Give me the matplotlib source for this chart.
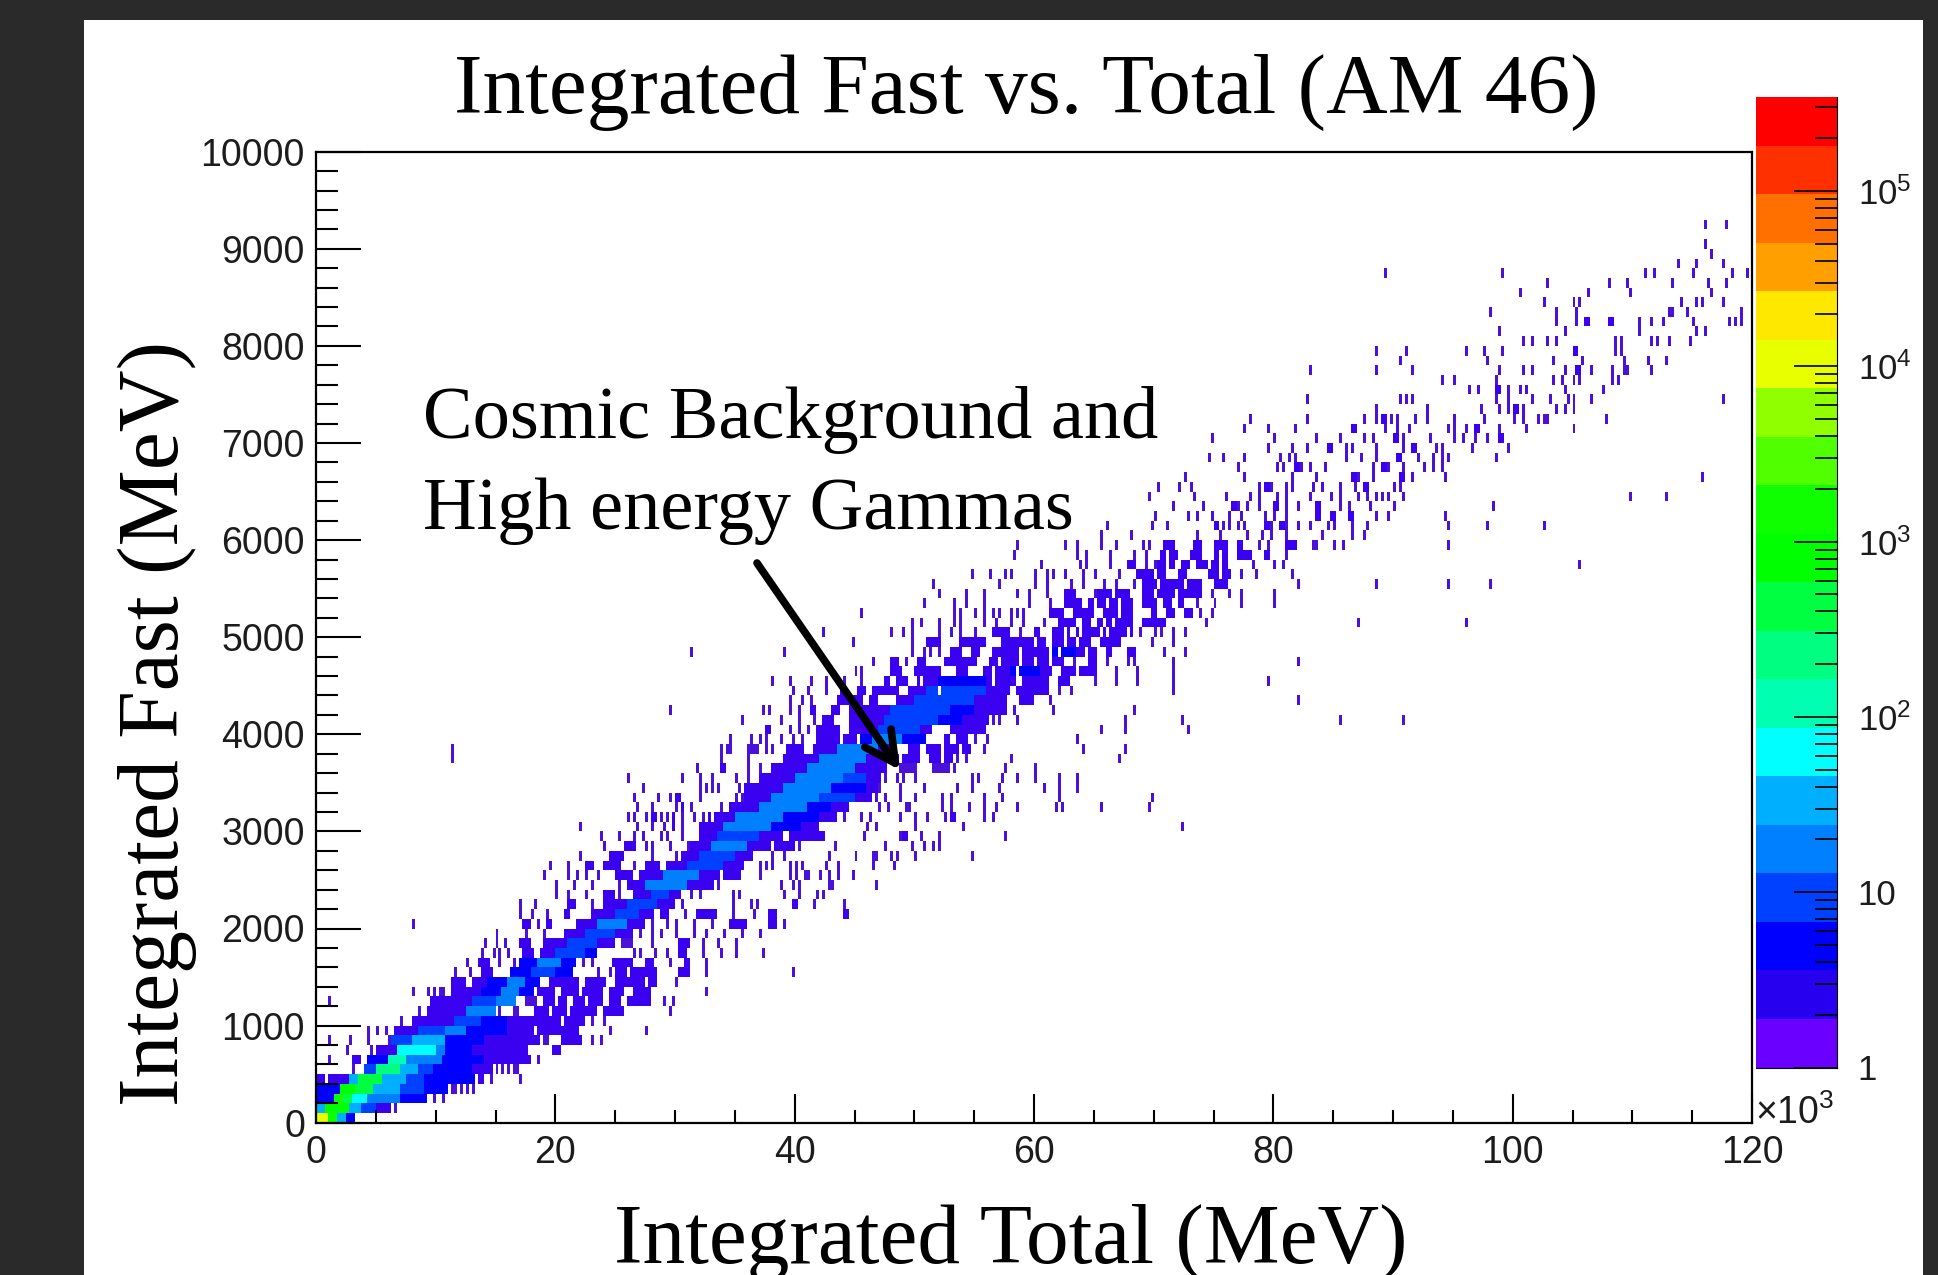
import numpy as np
import matplotlib
matplotlib.use('Agg')
import matplotlib.pyplot as plt
from matplotlib.colors import BoundaryNorm, ListedColormap
from matplotlib.patches import Rectangle
from matplotlib.ticker import LogLocator, MultipleLocator, NullFormatter

W, H = 1938, 1275

titulo = 'Integrated Fast vs. Total (AM 46)'
nome_x = 'Integrated Total (MeV)'
nome_y = 'Integrated Fast (MeV)'
anotacao = ['Cosmic Background and', 'High energy Gammas']

ticks_x = [0, 20, 40, 60, 80, 100, 120]
ticks_y = [0, 1000, 2000, 3000, 4000, 5000, 6000, 7000, 8000, 9000, 10000]
ticks_z = [1, 10, 100, 1000, 10000, 100000]
nomes_z = ['1', '10', '$\\mathregular{10^{2}}$', '$\\mathregular{10^{3}}$',
           '$\\mathregular{10^{4}}$', '$\\mathregular{10^{5}}$']
z_max = 3.44e5

cores = ['#6a00ff', '#2800f0', '#0000ff', '#0040ff', '#0080ff', '#00b0ff', '#00ffff',
         '#00ffb0', '#00ff80', '#00ff40', '#00ff00', '#10ff00', '#50ff00', '#90ff00',
         '#e8ff00', '#ffe800', '#ffa000', '#ff7000', '#ff3000', '#ff0000']
# as celulas pequenas aparecem mais escuras que a paleta
cores_celulas = ['#4a12d8', '#3a00f0'] + cores[2:]

# (linha de 100 MeV, x inicial, x final, contagem), x em 10^3 MeV
faixa_baixa = [
    (0, 0, 1, 8000), (0, 1, 1.8, 1500), (0, 1.8, 2.4, 40), (0, 2.4, 3.3, 5),
    (1, 0, .8, 35), (1, .8, 1.6, 900), (1, 1.6, 2.8, 700), (1, 2.8, 3.7, 30), (1, 3.7, 5, 7), (1, 5, 6.3, 3),
    (2, 0, 1.4, 5), (2, 1.4, 2.2, 1500), (2, 2.2, 3.1, 500), (2, 3.1, 4.2, 60), (2, 4.2, 7, 22), (2, 7, 9.2, 5),
    (3, 0, 2.1, 6), (3, 2.1, 3.2, 700), (3, 3.2, 4.8, 400), (3, 4.8, 7, 30), (3, 7, 9, 9), (3, 9, 11, 5),
    (4, 0, .8, 3), (4, 1, 2.8, 3), (4, 2.8, 3.6, 40), (4, 3.6, 5.6, 500), (4, 5.6, 7.5, 25), (4, 7.5, 9, 12),
    (4, 9, 13.2, 4), (4, 13.5, 14, 2),
    (5, 4, 5, 8), (5, 5, 7, 300), (5, 7, 8.5, 25), (5, 8.5, 9.8, 10), (5, 9.8, 13, 5), (5, 13, 14.8, 3),
    (6, 3.1, 3.7, 2), (6, 4.2, 5.9, 6), (6, 5.9, 7.6, 130), (6, 7.6, 10.4, 14), (6, 10.4, 14, 5), (6, 14, 17.9, 3),
    (7, 5, 6.8, 3), (7, 6.8, 8, 60), (7, 8, 10, 70), (7, 10, 10.7, 22), (7, 10.7, 13, 5), (7, 13, 17.7, 3),
    (7, 19.8, 20.5, 2),
    (8, 6.2, 8.1, 7), (8, 8.1, 10.7, 30), (8, 10.7, 14, 5), (8, 14, 18.7, 3), (8, 19, 19.5, 1), (8, 20.4, 22.2, 2),
    (9, 6.5, 8.5, 3), (9, 8.5, 10.7, 8), (9, 10.7, 12.6, 22), (9, 12.6, 16, 5), (9, 16, 22, 3),
    (10, 8.1, 11.5, 3), (10, 11.5, 13.7, 12), (10, 13.7, 16, 4), (10, 16, 18, 2), (10, 18, 22.6, 3),
    (11, 9.3, 12.6, 3), (11, 12.6, 15.1, 14), (11, 15.2, 15.6, 1), (11, 16.4, 17, 1), (11, 18.2, 23.5, 3), (11, 24, 25.7, 2),
    (12, 9.5, 13, 3), (12, 13, 15, 7), (12, 15, 16.8, 14), (12, 17.6, 18.6, 1), (12, 19, 21, 2), (12, 21.4, 24, 2),
    (12, 24.5, 25.6, 2), (12, 26, 28, 2),
]
faixa_media = [
    (13, 11.2, 13.7, 2), (13, 13.7, 15.5, 5), (13, 15.5, 17, 14), (13, 17, 18.2, 5), (13, 18.5, 20, 2), (13, 20.5, 24, 2),
    (13, 24.4, 26, 2), (13, 26.4, 28, 2),
    (14, 11.2, 12.6, 2), (14, 13.1, 14.3, 2), (14, 14.3, 16, 5), (14, 16, 17.5, 14), (14, 17.5, 18.7, 5),
    (14, 19.6, 22, 2), (14, 22.4, 24.3, 2), (14, 24.9, 28.5, 2),
    (15, 13.7, 14.8, 2), (15, 16.2, 18, 6), (15, 18, 20, 9), (15, 20, 21.5, 5), (15, 24.9, 28.6, 2), (15, 30.2, 31.3, 2),
    (16, 13.6, 14.5, 2), (16, 17, 18.5, 5), (16, 18.5, 20.5, 14), (16, 20.5, 21.8, 5), (16, 24.7, 26.8, 2),
    (16, 27.4, 28.2, 2), (16, 30.7, 31.3, 2),
    (17, 17.3, 18.2, 2), (17, 18.7, 20, 3), (17, 20, 22.5, 12), (17, 22.5, 23.5, 5), (17, 30.3, 31, 2),
    (18, 17, 18, 2), (18, 19, 21, 3), (18, 21, 23.5, 9), (18, 23.5, 25, 3), (18, 25.5, 26.5, 1), (18, 30.2, 31.2, 2),
    (19, 20.7, 22.5, 2), (19, 22.5, 25, 7), (19, 25, 26.5, 3),
    (20, 17.3, 18, 2), (20, 19.3, 19.8, 2), (20, 21.8, 23.5, 3), (20, 23.5, 26, 14), (20, 26, 27.6, 3),
    (20, 34.4, 36, 2), (20, 37.7, 38.5, 3),
    (21, 20.7, 21.2, 2), (21, 22.9, 25, 3), (21, 25, 27, 9), (21, 27, 28.2, 3), (21, 28.8, 29.6, 2),
    (21, 31.8, 33.5, 2), (21, 37.7, 38.5, 2),
    (22, 21, 21.8, 2), (22, 24, 26, 3), (22, 26, 28.5, 7), (22, 28.5, 30.1, 3),
    (23, 24, 25.1, 2), (23, 26.5, 28, 3), (23, 28, 29.5, 12), (23, 29.5, 30.4, 3),
    (24, 26, 27.5, 3), (24, 27.5, 31, 14), (24, 31, 33.2, 3),
    (25, 25, 26.5, 2), (25, 27, 29, 3), (25, 29, 32, 14), (25, 32, 33.8, 3), (25, 34, 35.4, 2),
    (26, 22.6, 23.3, 2), (26, 23.9, 25.4, 2), (26, 27.4, 28.7, 2), (26, 29.3, 31, 3), (26, 31, 34, 9), (26, 34, 35.7, 3),
    (27, 24.4, 25.7, 2), (27, 30.5, 32, 3), (27, 32, 35, 9), (27, 35, 36.5, 3),
    (28, 25.7, 26.8, 2), (28, 31.2, 33, 3), (28, 33, 36, 14), (28, 36, 38, 3), (28, 38.2, 39.9, 2),
    (29, 31.9, 33.5, 3), (29, 33.5, 37, 12), (29, 37, 39, 3), (29, 39.4, 42.4, 2),
    (30, 29.7, 30.1, 2), (30, 32, 34, 3), (30, 34, 38, 14), (30, 38, 40.5, 5), (30, 40.5, 42.1, 2),
    (31, 28, 28.5, 2), (31, 29.7, 30.1, 2), (31, 32.7, 33.1, 2), (31, 33.3, 35, 3), (31, 35, 39, 14), (31, 39, 42, 5), (31, 42, 43.5, 2),
    (32, 30.4, 30.8, 2), (32, 34.5, 37, 3), (32, 37, 41, 14), (32, 41, 43, 5), (32, 43, 44.4, 2),
]
faixa_alta = [
    (33, 35.7, 38, 3), (33, 38, 42, 14), (33, 42, 45, 7), (33, 45, 46.6, 2),
    (34, 36, 39, 3), (34, 39, 43, 14), (34, 43, 46, 5), (34, 46, 46.9, 2),
    (35, 37.1, 40, 3), (35, 40, 44, 18), (35, 44, 46, 7), (35, 46, 47.3, 2),
    (36, 37.9, 41, 3), (36, 41, 45, 18), (36, 45, 47.7, 3), (36, 48.8, 50.2, 1), (36, 51.6, 53, 1),
    (37, 39, 42, 3), (37, 42, 46, 14), (37, 46, 48.8, 3), (37, 49.1, 50.5, 2), (37, 51.3, 53.3, 2),
    (38, 39.3, 40.7, 2), (38, 41.6, 43.5, 3), (38, 43.5, 47, 14), (38, 47, 48.5, 3), (38, 49.4, 50.5, 2), (38, 51, 54.7, 2),
    (39, 41.7, 43.8, 2), (39, 44.1, 45.2, 3), (39, 45.5, 46.5, 5), (39, 46.5, 49, 14), (39, 49, 51, 5),
    (39, 52.4, 53, 2), (39, 53.5, 54.4, 2),
    (40, 37.4, 38, 2), (40, 41.8, 43.8, 2), (40, 44.6, 47, 3), (40, 47, 50.5, 10), (40, 50.5, 51.6, 3), (40, 53, 56, 2),
    (41, 42.3, 43.2, 2), (41, 44.4, 47.5, 3), (41, 47.5, 52, 10), (41, 52, 54, 5), (41, 54, 56.3, 2),
    (42, 41.2, 41.8, 2), (42, 43.1, 43.7, 2), (42, 44.4, 48, 3), (42, 48, 53, 9), (42, 53, 55, 5), (42, 55, 57.7, 2),
    (43, 43.5, 45.7, 2), (43, 46.3, 47.1, 2), (43, 48.5, 50, 3), (43, 50, 55, 9), (43, 55, 57.7, 3), (43, 58.8, 60, 2),
    (44, 43.8, 44.3, 2), (44, 45.2, 45.9, 2), (44, 46.6, 48.8, 2), (44, 49.4, 51, 3), (44, 51, 56, 7), (44, 56, 57.9, 3),
    (44, 58.6, 61.3, 2),
    (45, 47.4, 48, 2), (45, 48.5, 49.4, 2), (45, 50.2, 52, 2), (45, 52, 56, 5), (45, 56, 58.6, 3), (45, 59.1, 61.3, 3),
    (45, 61.9, 63, 2),
    (46, 48.1, 49.1, 2), (46, 49.9, 52.2, 2), (46, 53.5, 54.4, 2), (46, 55.8, 58, 3), (46, 58, 60.5, 5), (46, 60.5, 61.6, 3),
    (46, 62.2, 65.2, 2),
    (47, 48.1, 48.8, 2), (47, 50.2, 51, 2), (47, 52.4, 55.2, 2), (47, 56.3, 58, 2), (47, 58, 61.3, 3), (47, 61.6, 62.5, 3),
    (47, 64.5, 65.2, 2),
    (48, 53, 54.1, 2), (48, 54.7, 55.5, 2), (48, 56.6, 61.3, 3), (48, 61.6, 63.5, 5), (48, 63.5, 65.2, 3), (48, 66, 66.6, 2),
    (48, 67.8, 68.6, 2),
    (49, 51, 52.2, 2), (49, 53.8, 56, 2), (49, 57.2, 61.1, 2), (49, 61.6, 64.7, 3), (49, 65.5, 67.2, 2),
    (50, 56.6, 58, 2), (50, 60, 60.5, 2), (50, 61.6, 63, 2), (50, 63.4, 65.5, 2), (50, 65.8, 68.3, 3),
    (51, 61.9, 63.6, 2), (51, 64.1, 64.7, 2), (51, 65.2, 68.3, 2), (51, 69.1, 71.1, 2),
    (52, 61.3, 62.8, 2), (52, 63.2, 65, 2), (52, 65.5, 68.3, 2), (52, 69.7, 70.3, 2), (52, 70.9, 71.8, 2), (52, 72.5, 73.2, 2),
    (53, 62.5, 64, 2), (53, 64.4, 66, 2), (53, 66.2, 68.3, 2), (53, 68.9, 70.3, 2), (53, 70.8, 71.6, 3), (53, 71.9, 72.6, 2),
    (54, 62.5, 63.6, 2), (54, 65.2, 68, 2), (54, 68.9, 71, 2), (54, 71, 74, 3),
    (55, 69.1, 72, 2), (55, 72, 74, 3), (55, 75.1, 76.3, 2),
    (56, 68.6, 71.3, 2), (56, 72, 72.8, 2), (56, 74.6, 76.6, 3),
    (57, 67.8, 68.6, 2), (57, 70.2, 71.7, 2), (57, 72.3, 73, 2), (57, 73.6, 76.3, 2),
    (58, 70.5, 72, 2), (58, 73, 74, 2), (58, 75, 76.3, 2), (58, 77, 78.3, 2), (58, 79.3, 79.8, 2),
    (59, 70.7, 71.7, 2), (59, 73.3, 74, 2), (59, 75.1, 76.3, 2), (59, 77, 77.6, 2), (59, 80.9, 82, 2), (59, 83.2, 83.7, 1),
]

# celulas isoladas (x em 10^3 MeV, y em MeV)
celulas_baixas = [
    (6.7, 150), (9.8, 250), (10.5, 250), (11.3, 350), (11.7, 350), (12.1, 350), (12.6, 350), (13, 350), (13.8, 450),
    (14.7, 450), (15.1, 550), (15.6, 550), (16, 550), (16.5, 550), (16.9, 550), (17.1, 450), (18.7, 650), (3, 550),
    (2.7, 750), (4.5, 650), (4.5, 750), (4.4, 850), (6.2, 850), (7, 750), (7.7, 850), (1.2, 850), (2.9, 850), (1.1, 650),
    (23.2, 850), (23.9, 850), (24.6, 950), (27.5, 950), (1.2, 1250), (4.3, 950), (5.1, 950), (5.8, 950), (7.2, 1050),
    (23, 1050), (24, 1050), (8.7, 1150), (29.7, 1150), (29, 1250), (29.9, 1250), (8, 1350), (9.4, 1350), (9.9, 1350),
    (10.4, 1350), (10.7, 1350), (32.5, 1350), (30.2, 1450), (11.6, 1550), (12.9, 1550), (23.5, 1550), (24.5, 1550),
    (32.5, 1550), (39.9, 1550), (12.5, 1650), (15.4, 1650), (16.5, 1650), (22.3, 1650), (23.2, 1650), (29.5, 1650),
    (32.5, 1650), (13.8, 1750), (14.8, 1750), (15.4, 1750), (16.2, 1750), (26.5, 1750), (27, 1750), (28.3, 1750),
    (29.3, 1750), (32.4, 1750), (33.8, 1750), (35.2, 1750), (37.3, 1750), (14, 1850), (15.1, 1850), (15.8, 1850),
    (28.2, 1850), (32.4, 1850), (33.5, 1850), (35.2, 1850), (15.1, 1950), (17.6, 1950), (19, 1950), (27, 1950),
    (28, 1950), (28.8, 1950), (30.2, 1950), (31.6, 1950), (32.6, 1950), (34, 1950), (35.7, 1950), (37, 1950),
    (8, 2050), (18.5, 2050), (28.2, 2050), (29.3, 2050), (30.2, 2050), (31.6, 2050), (33.2, 2050), (39.2, 2050),
    (17, 2150), (18.2, 2150), (19.3, 2150), (30.8, 2150), (34.9, 2150), (36.6, 2150), (44.2, 2150), (44.2, 2250),
    (17, 2250), (18.3, 2250), (23.2, 2250), (30.7, 2250), (34.9, 2250), (36.3, 2250), (36.8, 2250), (39.9, 2250),
    (41.6, 2250), (20, 2350), (21, 2350), (22.6, 2350), (25.4, 2350), (31.3, 2350), (32, 2350), (34.9, 2350),
    (35.4, 2350), (39, 2350), (40.4, 2350), (41.8, 2350), (42.4, 2350), (20, 2450), (21.6, 2450), (23.2, 2450),
    (25.4, 2450), (33.5, 2450), (38.8, 2450), (39.9, 2450), (40.4, 2450), (42.9, 2450), (43.2, 2450), (46.9, 2450),
    (19, 2550), (21, 2550), (21.8, 2550), (22.6, 2550), (23.6, 2550), (37, 2550), (39.6, 2550), (40.2, 2550), (40.9, 2550),
    (41.2, 2550), (42.2, 2550), (42.9, 2550), (43.7, 2550), (44.8, 2550), (19.6, 2650), (21.2, 2650), (26.7, 2650),
    (37.1, 2650), (37.7, 2650), (38.2, 2650), (39.5, 2650), (40.2, 2650), (40.7, 2650), (42.7, 2650), (43.7, 2650),
    (46.5, 2650), (48.4, 2650), (22.2, 2750), (28, 2750), (30, 2750), (38, 2750), (39.2, 2750), (42.9, 2750), (45.2, 2750),
    (46.6, 2750), (46.9, 2750), (48.1, 2750), (48.6, 2750), (50.1, 2750), (54.9, 2750), (24.2, 2850), (27.6, 2850),
    (28.2, 2850), (29.6, 2850), (31, 2850), (40.4, 2850), (43.3, 2850), (47.6, 2850), (49.8, 2850), (50.8, 2850),
    (51.7, 2850), (52.1, 2850), (23.9, 2950), (25.4, 2950), (26.5, 2950), (27.4, 2950), (28.8, 2950), (29.4, 2950),
    (30.7, 2950), (45.9, 2950), (48.8, 2950), (49.2, 2950), (50.6, 2950), (52.1, 2950), (57.7, 2950),
]
celulas_medias = [
    (22.1, 3050), (26.9, 3050), (28, 3050), (29, 3050), (30.7, 3050), (72.4, 3050), (46, 3050), (46.9, 3050), (50.1, 3050),
    (54.2, 3050), (26, 3150), (26.5, 3150), (27.6, 3150), (28.9, 3150), (29.3, 3150), (30.7, 3150), (31.7, 3150),
    (32.3, 3150), (44.2, 3150), (45.6, 3150), (46.3, 3150), (48.9, 3150), (50.1, 3150), (51.2, 3150), (52.5, 3150),
    (55.8, 3150), (56.6, 3150), (26.9, 3250), (28.2, 3250), (30, 3250), (31.3, 3250), (33.8, 3250), (47, 3250),
    (47.9, 3250), (49.4, 3250), (49.7, 3250), (52.3, 3250), (53.1, 3250), (54.5, 3250), (55.9, 3250), (56.9, 3250),
    (58.5, 3250), (61.8, 3250), (62.3, 3250), (65.7, 3250), (69.7, 3250), (26.5, 3350), (28.6, 3350), (29.5, 3350),
    (30, 3350), (32.2, 3350), (35, 3350), (35.6, 3350), (46.9, 3350), (47.6, 3350), (48.8, 3350), (50.2, 3350), (52.3, 3350),
    (53.1, 3350), (55.8, 3350), (57.4, 3350), (62, 3350), (69.8, 3350), (27.4, 3450), (32.1, 3450), (32.7, 3450),
    (33.2, 3450), (33.6, 3450), (35.3, 3450), (35.9, 3450), (36.6, 3450), (47.1, 3450), (48.8, 3450), (50.8, 3450),
    (53.5, 3450), (54.9, 3450), (57, 3450), (60.8, 3450), (62.2, 3450), (63.6, 3450), (26.2, 3550), (30.6, 3550),
    (32.1, 3550), (33.2, 3550), (35.1, 3550), (36, 3550), (47.6, 3550), (48.6, 3550), (49.2, 3550), (50, 3550),
    (54.9, 3550), (55.4, 3550), (57.3, 3550), (58.6, 3550), (60.1, 3550), (62.2, 3550), (63.6, 3550), (31.8, 3650),
    (33.9, 3650), (36.1, 3650), (37, 3650), (53.3, 3650), (57.7, 3650), (60.2, 3650), (11.4, 3750), (33.9, 3750), (36.2, 3750),
    (53.7, 3750), (54.4, 3750), (58.1, 3750), (67.2, 3750), (11.4, 3850), (33.9, 3850), (34.3, 3850), (36.2, 3850), (36.6, 3850),
    (33.8, 3850), (34.5, 3850), (36.3, 3850), (36.8, 3850), (37.7, 3850), (38.1, 3850), (55.8, 3850), (64.1, 3850), (67.6, 3850),
    (34.5, 3950), (36.3, 3950), (37.2, 3950), (37.7, 3950), (38.8, 3950), (39.9, 3950), (40.7, 3950), (55, 3950), (56, 3950),
    (63.6, 3950), (39.5, 4050), (40.4, 4050), (41, 4050), (65.7, 4050), (67.7, 4050), (72.8, 4050), (35.7, 4150), (35.7, 4170),
    (38.8, 4150), (40.4, 4150), (41.6, 4150), (56.6, 4150), (57.2, 4150), (58.6, 4150), (67.6, 4150), (72.4, 4150), (85.5, 4150),
    (90.9, 4150), (29.5, 4250), (37.4, 4250), (37.8, 4250), (39.5, 4250), (40.4, 4250), (58.3, 4250), (61.5, 4250), (68.3, 4250),
    (82.2, 4350), (39.5, 4350), (40.7, 4350), (41.3, 4350), (61.3, 4350), (71.7, 4450), (39.9, 4450), (41, 4450), (42.7, 4450),
    (62, 4450), (63.2, 4450), (38.1, 4550), (39.6, 4550), (41.3, 4550), (42.7, 4550), (44.1, 4550), (45.7, 4550), (65, 4550),
    (66.8, 4550), (68.7, 4550), (71.7, 4550), (79.5, 4550), (45, 4650), (45.7, 4650), (66.8, 4650), (68.6, 4650), (71.7, 4650),
    (71.5, 4750), (82, 4750), (46.7, 4750), (49.4, 4750), (63.3, 4750), (66, 4750), (67.8, 4750), (68.4, 4750), (71.5, 4750),
    (31.4, 4850), (39.2, 4850), (49.9, 4850), (50.8, 4850), (51.3, 4850), (52.2, 4850), (70.9, 4850), (72.6, 4850), (72.5, 4850),
    (70.8, 4850), (44.8, 4950), (49.9, 4950), (69.8, 4950), (71.5, 4950),
]
celulas_altas = [
    (42.4, 5050), (48, 5050), (49.1, 5050), (49.9, 5050), (52.2, 5050), (53, 5050), (53.8, 5050), (55.2, 5050), (58.8, 5050),
    (68.9, 5050), (70, 5050), (70.5, 5050), (71.5, 5050), (72.6, 5050), (49.9, 5150), (50.6, 5150), (52.2, 5150), (53.3, 5150),
    (53.8, 5150), (55.8, 5150), (56.9, 5150), (58, 5150), (59.1, 5150), (60.8, 5150), (74.3, 5150), (87.2, 5150), (96.2, 5150),
    (45.5, 5250), (53.3, 5250), (53.8, 5250), (55.2, 5250), (55.8, 5250), (56.6, 5250), (57.2, 5250), (58, 5250), (58.6, 5250),
    (59.2, 5250), (73.9, 5250), (74.9, 5250), (50.8, 5350), (53.3, 5350), (54.4, 5350), (55.8, 5350), (59.5, 5350), (61.3, 5350),
    (73.7, 5350), (75, 5350), (77.3, 5350), (80.1, 5350), (52.2, 5450), (54.4, 5450), (55.8, 5450), (58.6, 5450), (59.5, 5450),
    (61.1, 5450), (65, 5450), (74.8, 5450), (76.3, 5450), (77.3, 5450), (80.1, 5450), (51.5, 5550), (57.2, 5550), (60, 5550),
    (61.1, 5550), (63, 5550), (64.1, 5550), (65.8, 5550), (66.9, 5550), (68.3, 5550), (82.2, 5550), (88.7, 5550), (94.7, 5550),
    (98.1, 5550), (54.9, 5650), (56.3, 5650), (57.6, 5650), (58, 5650), (60.2, 5650), (61.1, 5650), (61.6, 5650), (62.7, 5650),
    (64.1, 5650), (65.2, 5650), (67.2, 5650), (77.4, 5650), (78.6, 5650), (81.6, 5650), (60.5, 5750), (63.9, 5750), (64.4, 5750),
    (66.4, 5750), (69.4, 5750), (70, 5750), (78.4, 5750), (80.1, 5750), (80.9, 5750), (105.7, 5750), (58.4, 5850), (63.6, 5850),
    (64.4, 5850), (66.4, 5850), (68.3, 5850), (69.4, 5850), (81.2, 5850), (58.6, 5950), (62.5, 5950), (63.6, 5950), (65.7, 5950),
    (66.9, 5950), (69.1, 5950), (69.7, 5950), (78.9, 5950), (79.6, 5950), (85, 5950), (85.9, 5950), (94.7, 5950),
    (65.5, 6050), (68, 6050), (73.6, 6050), (75.5, 6050), (77.8, 6050), (79.1, 6050), (79.8, 6050), (81.1, 6050), (84.2, 6050),
    (86.7, 6050), (87.5, 6050), (66.1, 6150), (69.9, 6150), (71.2, 6150), (75.1, 6150), (75.8, 6150), (76.4, 6150), (77.1, 6150),
    (77.6, 6150), (79.4, 6150), (79.9, 6150), (80.7, 6150), (81.2, 6150), (82.2, 6150), (83.2, 6150), (84.7, 6150), (85.2, 6150),
    (86.7, 6150), (87.8, 6150), (94.7, 6150), (97.9, 6150), (102.7, 6150), (70.2, 6250), (72.8, 6250), (73.6, 6250), (74.8, 6250),
    (76.3, 6250), (77.4, 6250), (79.4, 6250), (80.2, 6250), (81, 6250), (83.6, 6250), (84.8, 6250), (86.4, 6250), (88.7, 6250),
    (89.7, 6250), (94.3, 6250), (71.5, 6350), (74.1, 6350), (76.5, 6350), (77.1, 6350), (77.9, 6350), (78.8, 6350), (80.1, 6350),
    (81.1, 6350), (82.2, 6350), (83.6, 6350), (85.7, 6350), (86.4, 6350), (88, 6350), (90, 6350), (98.4, 6350), (69.7, 6450),
    (73.4, 6450), (76.2, 6450), (78.1, 6450), (78.8, 6450), (80.3, 6450), (81.2, 6450), (83.2, 6450), (84.9, 6450), (85.5, 6450),
    (87, 6450), (87.8, 6450), (88.7, 6450), (89.2, 6450), (89.6, 6450), (90.8, 6450), (109.9, 6450), (112.8, 6450), (70.4, 6550),
    (72.2, 6550), (73, 6550), (78.9, 6550), (79.4, 6550), (79.8, 6550), (81, 6550), (81.7, 6550), (83.4, 6550), (84.1, 6550),
    (85.5, 6550), (86.8, 6550), (87.6, 6550), (90.1, 6550), (90.5, 6550), (72.6, 6650), (77.5, 6650), (81.6, 6650), (83.6, 6650),
    (86.5, 6650), (87.2, 6650), (88.3, 6650), (90.5, 6650), (91.5, 6650), (94.4, 6650), (115.8, 6650), (77.1, 6750), (80.3, 6750),
    (80.9, 6750), (81.8, 6750), (82.4, 6750), (83.1, 6750), (84.4, 6750), (88.3, 6750), (89, 6750), (89.7, 6750), (90.8, 6750),
    (92.5, 6750), (93.3, 6750), (94.2, 6750), (74.7, 6850), (75.8, 6850), (77.7, 6850), (80.5, 6850), (81.4, 6850), (81.8, 6850),
    (86.2, 6850), (87.4, 6850), (88.7, 6850), (90.3, 6850), (92.1, 6850), (93.3, 6850), (94, 6850), (94.7, 6850), (98.6, 6850),
    (79.5, 6950), (81.6, 6950), (82.9, 6950), (84.7, 6950), (86, 6950), (86.5, 6950), (88.7, 6950), (90.8, 6950), (91.6, 6950),
    (93.5, 6950), (94, 6950), (96.7, 6950), (99.5, 6950),
]
celulas_cauda = [
    (74.9, 7050), (80.1, 7050), (83.6, 7050), (85.5, 7050), (87.6, 7050), (88.3, 7050), (90.2, 7050), (90.8, 7050), (93, 7050),
    (95.1, 7050), (95.8, 7050), (96.8, 7050), (97.9, 7050), (98.9, 7050), (77.5, 7150), (79.5, 7150), (81.8, 7150), (86.5, 7150),
    (89.4, 7150), (90.3, 7150), (91.3, 7150), (94.5, 7150), (95.1, 7150), (96, 7150), (96.8, 7150), (98.9, 7150), (101.2, 7150),
    (105, 7150), (78.2, 7250), (82.9, 7250), (87.7, 7250), (88.5, 7250), (89, 7250), (89.8, 7250), (90.4, 7250), (91.9, 7250),
    (92.8, 7250), (95.1, 7250), (97.6, 7250), (100, 7250), (100.9, 7250), (102, 7250), (102.5, 7250), (102.9, 7250), (107.8, 7250),
    (88.5, 7350), (92.8, 7350), (97.3, 7350), (98.8, 7350), (99.7, 7350), (100, 7350), (100.9, 7350), (103.5, 7350), (104.4, 7350),
    (105, 7350), (82.9, 7450), (90.5, 7450), (91, 7450), (91.5, 7450), (98.6, 7450), (99.7, 7450), (101.6, 7450), (103.1, 7450),
    (104.6, 7450), (105, 7450), (106.7, 7450), (117.7, 7450), (96.4, 7550), (97, 7550), (98.6, 7550), (99.7, 7550), (100.5, 7550),
    (101.2, 7550), (104.4, 7550), (107.6, 7550), (94.1, 7650), (95.1, 7650), (98.6, 7650), (103.3, 7650), (104.2, 7650), (105, 7650),
    (105.6, 7650), (108.3, 7650), (108.9, 7650), (83.1, 7750), (88.7, 7750), (91.7, 7750), (98.8, 7750), (100.9, 7750), (101.5, 7750),
    (104.4, 7750), (105.4, 7750), (106.7, 7750), (108.3, 7750), (109.3, 7750), (109.7, 7750), (111.7, 7750), (90.5, 7850), (97.9, 7850),
    (103.3, 7850), (105.9, 7850), (109.3, 7850), (111.3, 7850), (112.8, 7850), (88.7, 7950), (91.1, 7950), (96.2, 7950), (97.5, 7950),
    (99.2, 7950), (105.2, 7950), (108.5, 7950), (109.1, 7950), (100.9, 8050), (101.5, 8050), (102.9, 8050), (103.7, 8050), (108.5, 8050),
    (109.1, 8050), (111.7, 8050), (112.1, 8050), (113.2, 8050), (114.9, 8050), (98.8, 8150), (104.4, 8150), (110.6, 8150), (115.3, 8150),
    (116.2, 8150), (103.7, 8250), (105.3, 8250), (106.2, 8250), (108, 8250), (110.6, 8250), (111.5, 8250), (112.6, 8250), (115.2, 8250),
    (118.1, 8250), (118.5, 8250), (119.2, 8250), (98.1, 8350), (103.7, 8350), (105.4, 8350), (113, 8350), (113.4, 8350), (114.5, 8350),
    (119, 8350), (102.7, 8450), (105, 8450), (105.6, 8450), (114.1, 8450), (115.3, 8450), (115.8, 8450), (117.5, 8450), (100.7, 8550),
    (106.3, 8550), (109.8, 8550), (116.6, 8550), (102.9, 8650), (108, 8650), (109.5, 8650), (113.4, 8650), (116.4, 8650), (117.9, 8650),
    (89.4, 8750), (99.2, 8750), (111.2, 8750), (111.9, 8750), (115.2, 8750), (118.3, 8750), (119.7, 8750), (113.8, 8850), (115.4, 8850),
    (117.5, 8850), (116.6, 8950), (116.2, 9050), (116.2, 9250), (117.9, 9250),
]
# celulas de largura dupla lidas como blocos
blocos = [
    (106.2, 8250), (108, 8250), (105.2, 7950), (105.4, 7750), (98.6, 7550), (100, 7350), (89, 7250), (86.5, 7150), (96.8, 7150),
    (90.2, 7050), (98.9, 7050), (84.7, 6950), (91.6, 6950), (90.3, 6850), (81.8, 6750), (89, 6750), (86.5, 6650), (90.5, 6650),
    (79.4, 6550), (87.6, 6550), (76.5, 6350), (80.1, 6350), (83.6, 6350), (83.6, 6250), (84.8, 6250), (86.4, 6250), (75.1, 6150),
    (79.4, 6150), (80.7, 6150), (49, 2950), (30, 3350), (35.9, 3450), (33.9, 3650), (53, 3150), (39.9, 2250), (44.2, 2150),
]
# celulas vazias dentro da faixa densa
buracos = [
    (58.3, 4350), (56.6, 4550), (58.8, 4550), (50.5, 4550), (52.2, 4450), (56.6, 4650), (58.6, 4650), (61.9, 4650), (63.6, 4650),
    (57.2, 4750), (58.8, 4750), (60.2, 4750), (58.8, 4850), (62, 4850), (64.3, 4850), (60, 4950), (62.5, 4950), (63.6, 4950),
    (62.7, 5050), (63.9, 5050), (66.1, 5050), (67.8, 5050), (65.8, 5150), (66.6, 5150), (62.7, 5250), (65.5, 5250), (67, 5250),
    (65.2, 5350), (67.2, 5350), (70, 5450), (71.9, 5450), (66.6, 5450), (70.3, 5550), (72.5, 5550), (70, 5650), (71.1, 5650),
    (75.6, 5650), (74.6, 5750), (75.7, 5750), (71, 5750), (75.6, 5850), (71.2, 5850), (53.8, 3850), (52.3, 3850), (52.4, 3750),
    (18.4, 950), (20.5, 1050), (19.6, 1150), (21.2, 1150), (20.1, 1250), (22.7, 1250), (25.8, 1350), (22.2, 1350), (27.6, 1450),
    (26.1, 1550), (26.6, 1650),
]

# grade do histograma
n_x, n_y = 480, 100
passo_x = 120 / n_x
bordas_x = np.linspace(0, 120, n_x + 1)
bordas_y = np.linspace(0, 10000, n_y + 1)
contagens = np.zeros((n_y, n_x))

for linha, x0, x1, valor in faixa_baixa + faixa_media + faixa_alta:
    c0, c1 = int(round(x0 / passo_x)), int(round(x1 / passo_x))
    contagens[linha, c0:c1] = np.maximum(contagens[linha, c0:c1], valor)
for x, y in celulas_baixas + celulas_medias + celulas_altas + celulas_cauda:
    c = min(int(x / passo_x), n_x - 1)
    contagens[int(y / 100), c] = max(contagens[int(y / 100), c], 1)
for x, y in blocos:
    c = int(x / passo_x)
    contagens[int(y / 100), c:c + 2] = np.maximum(contagens[int(y / 100), c:c + 2], 2)
for x, y in buracos:
    contagens[int(y / 100), int(x / passo_x)] = 0

niveis = np.logspace(0, np.log10(z_max), len(cores) + 1)
mapa = ListedColormap(cores)
mapa_celulas = ListedColormap(cores_celulas)
norma = BoundaryNorm(niveis, len(cores))

fonte_serif = 'Liberation Serif'
fonte_sans = 'Liberation Sans'
plt.rcParams['font.family'] = fonte_sans
plt.rcParams['mathtext.fontset'] = 'custom'
plt.rcParams['mathtext.rm'] = fonte_sans
cor_texto = '#1c1c1c'

fig = plt.figure(figsize=(W / 100, H / 100), dpi=100, facecolor='#2a2a2a')
fig.patches.append(Rectangle((84 / W, 0), (1923 - 84) / W, 1 - 20 / H, transform=fig.transFigure,
                             facecolor='white', edgecolor='none', zorder=-1))

ax = fig.add_axes([316 / W, 1 - 1122.7 / H, (1752 - 316) / W, (1122.7 - 151.7) / H])
ax.pcolormesh(bordas_x, bordas_y, np.ma.masked_equal(contagens, 0), cmap=mapa_celulas, norm=norma)
ax.set_xlim(0, 120)
ax.set_ylim(0, 10000)
ax.set_xticks(ticks_x)
ax.set_yticks(ticks_y)
ax.xaxis.set_minor_locator(MultipleLocator(5))
ax.yaxis.set_minor_locator(MultipleLocator(200))
ax.tick_params(axis='x', which='major', direction='in', length=29 * .72, width=1.5, labelsize=27,
               labelcolor=cor_texto, pad=9)
ax.tick_params(axis='x', which='minor', direction='in', length=13 * .72, width=1.5)
ax.tick_params(axis='y', which='major', direction='in', length=45 * .72, width=1.5, labelsize=27,
               labelcolor=cor_texto, pad=8)
ax.tick_params(axis='y', which='minor', direction='in', length=22 * .72, width=1.5)
for lado in ax.spines.values():
    lado.set_linewidth(1.6)

cax = fig.add_axes([1756 / W, 1 - 1067.5 / H, (1837 - 1756) / W, (1067.5 - 97) / H])
cax.pcolormesh([0, 1], niveis, np.arange(len(cores)).reshape(-1, 1), cmap=mapa)
cax.set_yscale('log')
cax.set_ylim(1, z_max)
cax.set_xticks([])
cax.yaxis.tick_right()
cax.set_yticks(ticks_z)
cax.set_yticklabels(nomes_z)
cax.yaxis.set_minor_locator(LogLocator(base=10, subs=[2, 3, 4, 5, 6, 7, 8, 9], numticks=20))
cax.yaxis.set_minor_formatter(NullFormatter())
cax.tick_params(axis='y', which='major', direction='in', length=43 * .72, width=1.2, labelsize=25,
                labelcolor=cor_texto, pad=15)
cax.tick_params(axis='y', which='minor', direction='in', length=22 * .72, width=1.2)
cax.spines['top'].set_visible(False)
cax.spines['left'].set_visible(False)

def texto_px(x, y, s, **kw):
    return fig.text(x / W, 1 - y / H, s, **kw)

texto_px(1755, 1124, '$\\mathregular{\\times 10^{3}}$', fontsize=27, color=cor_texto, ha='left', va='baseline')
texto_px(1026, 112.5, titulo, family=fonte_serif, fontsize=61.4, color='black', ha='center', va='baseline')
texto_px(1011, 1263, nome_x, family=fonte_serif, fontsize=61.4, color='black', ha='center', va='baseline')
texto_px(178, 723, nome_y, family=fonte_serif, fontsize=61.6, color='black', rotation=90, ha='center',
         va='baseline', rotation_mode='anchor')
texto_px(423, 437.5, anotacao[0], family=fonte_serif, fontsize=53.6, color='black', ha='left', va='baseline')
texto_px(423, 529, anotacao[1], family=fonte_serif, fontsize=53.6, color='black', ha='left', va='baseline')

ax.annotate('', xy=(900 / W, 1 - 770 / H), xytext=(757 / W, 1 - 563 / H), xycoords='figure fraction',
            textcoords='figure fraction',
            arrowprops=dict(arrowstyle='->,head_length=2.2,head_width=1.15', color='black', lw=5.5,
                            shrinkA=0, shrinkB=0))

fig.savefig('out.png', dpi=100, facecolor=fig.get_facecolor())
